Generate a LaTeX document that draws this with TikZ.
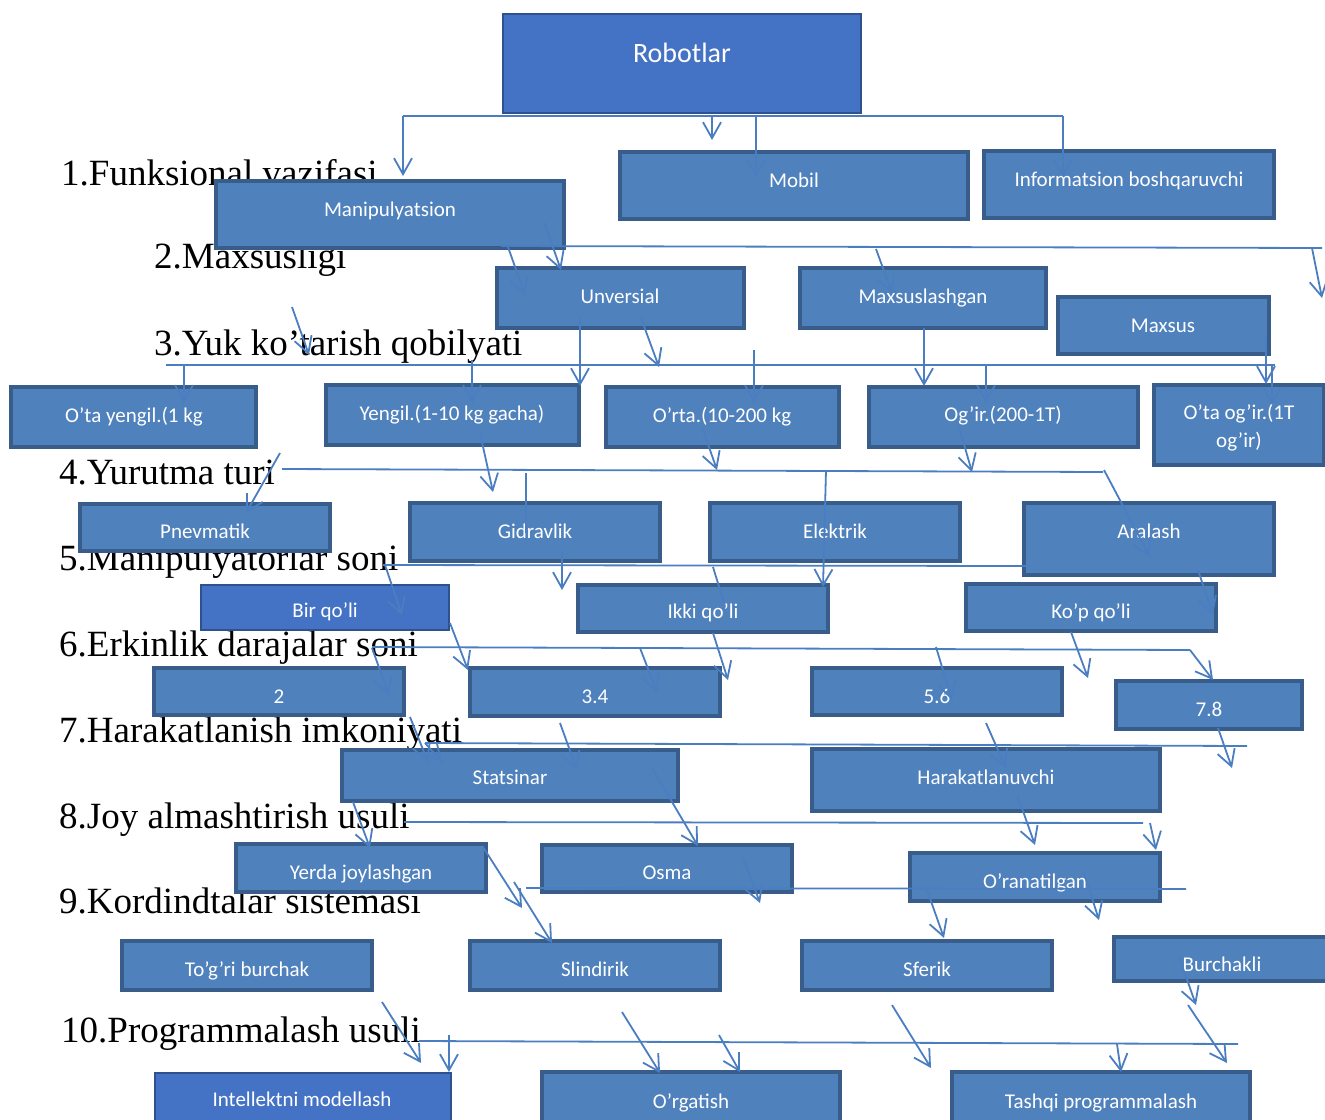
\documentclass[tikz,border=0pt]{standalone}
\usepackage{fontspec}
\setmainfont{Liberation Serif}
\newfontfamily\calibri{Carlito}
\usetikzlibrary{arrows.meta}
\definecolor{kfill}{HTML}{4F81BD}
\definecolor{kedge}{HTML}{385D8A}
\definecolor{kdark}{HTML}{4472C4}
\definecolor{kdarkedge}{HTML}{2F528F}
\definecolor{klinec}{HTML}{4A7EC0}
\tikzset{
	kbox/.style={fill=kfill, draw=kedge, line width=4pt},
	kboxdark/.style={fill=kdark, draw=kdarkedge, line width=2pt},
	ktext/.style={text=white, font=\calibri\fontsize{21}{28}\selectfont, anchor=base, inner sep=0pt},
	klabel/.style={font=\fontsize{37}{44}\selectfont, anchor=base west, inner sep=0pt},
	kline/.style={draw=klinec, line width=1.8pt},
	karrow/.style={kline, -{Straight Barb[length=16pt,width=18pt]}}
}
\begin{document}
\begin{tikzpicture}[x=1pt, y=-1pt]
			%%%%% START %%%%%
			\useasboundingbox (0,0) rectangle (1325,1119);
			\clip (0,0) rectangle (1325,1119);
			
			% left labels
			\node[klabel] (l1) at (61,185) {1.Funksional vazifasi};
			\node[klabel] (l2) at (154,268) {2.Maxsusligi};
			\node[klabel] (l3) at (154,355) {3.Yuk ko’tarish qobilyati};
			\node[klabel] (l4) at (59,484) {4.Yurutma turi};
			\node[klabel] (l5) at (59,570) {5.Manipulyatorlar soni};
			\node[klabel] (l6) at (59,656) {6.Erkinlik darajalar soni};
			\node[klabel] (l7) at (59,742) {7.Harakatlanish imkoniyati};
			\node[klabel] (l8) at (59,828) {8.Joy almashtirish usuli};
			\node[klabel] (l9) at (59,913) {9.Kordindtalar sistemasi};
			\node[klabel] (l10) at (61,1042) {10.Programmalash usuli};
			
			% top
			\draw[kboxdark] (503,14) rectangle (861,113);
			\node[ktext, font=\calibri\fontsize{28}{32}\selectfont] (robot) at (682,62) {Robotlar};
			
			% 1
			\draw[kbox] (620,152) rectangle (968,219);
			\node[ktext] (mobil) at (794,187) {Mobil};
			\draw[kbox] (984,151) rectangle (1274,218);
			\node[ktext] (info) at (1129,186) {Informatsion boshqaruvchi};
			\draw[kbox] (216,181) rectangle (564,248);
			\node[ktext] (manip) at (390,216) {Manipulyatsion};
			
			% 2
			\draw[kbox] (497,268) rectangle (744,328);
			\node[ktext] (unv) at (620,303) {Unversial};
			\draw[kbox] (800,268) rectangle (1046,328);
			\node[ktext] (maxl) at (923,303) {Maxsuslashgan};
			\draw[kbox] (1058,297) rectangle (1269,354);
			\node[ktext] (maxs) at (1163,332) {Maxsus};
			
			% 3
			\draw[kbox] (11,387) rectangle (256,447);
			\node[ktext] (yuk1) at (134,422) {O’ta yengil.(1 kg};
			\draw[kbox] (326,385) rectangle (579,445);
			\node[ktext] (yuk2) at (452,420) {Yengil.(1-10 kg gacha)};
			\draw[kbox] (606,387) rectangle (839,447);
			\node[ktext] (yuk3) at (722,422) {O’rta.(10-200 kg};
			\draw[kbox] (869,387) rectangle (1138,447);
			\node[ktext] (yuk4) at (1003,421) {Og’ir.(200-1T)};
			\draw[kbox] (1154,385) rectangle (1324,465);
			\node[ktext, anchor=center, align=center] (yuk5) at (1239,428) {O’ta og’ir.(1T\\og’ir)};
			
			% 4
			\draw[kbox] (80,504) rectangle (330,551);
			\node[ktext] (pnev) at (205,538) {Pnevmatik};
			\draw[kbox] (410,503) rectangle (660,561);
			\node[ktext] (gidr) at (535,538) {Gidravlik};
			\draw[kbox] (710,503) rectangle (960,561);
			\node[ktext] (elek) at (835,538) {Elektrik};
			\draw[kbox] (1024,503) rectangle (1274,575);
			\node[ktext] (aral) at (1149,538) {Aralash};
			
			% 5
			\draw[kboxdark] (201,585) rectangle (449,630);
			\node[ktext] (bir) at (325,617) {Bir qo’li};
			\draw[kbox] (578,585) rectangle (828,632);
			\node[ktext] (ikki) at (703,618) {Ikki qo’li};
			\draw[kbox] (966,584) rectangle (1216,631);
			\node[ktext] (kop) at (1091,618) {Ko’p qo’li};
			
			% 6
			\draw[kbox] (154,668) rectangle (404,715);
			\node[ktext] (erk1) at (279,703) {2};
			\draw[kbox] (470,668) rectangle (720,716);
			\node[ktext] (erk2) at (595,703) {3.4};
			\draw[kbox] (812,668) rectangle (1062,715);
			\node[ktext] (erk3) at (937,703) {5.6};
			\draw[kbox] (1116,681) rectangle (1302,729);
			\node[ktext] (erk4) at (1209,716) {7.8};
			
			% 7
			\draw[kbox] (342,750) rectangle (678,801);
			\node[ktext] (stat) at (510,784) {Statsinar};
			\draw[kbox] (812,749) rectangle (1160,811);
			\node[ktext] (hara) at (986,784) {Harakatlanuvchi};
			
			% 8
			\draw[kbox] (236,844) rectangle (486,892);
			\node[ktext] (yerda) at (361,879) {Yerda joylashgan};
			\draw[kbox] (542,845) rectangle (792,892);
			\node[ktext] (osma) at (667,879) {Osma};
			\draw[kbox] (910,853) rectangle (1160,901);
			\node[ktext] (orna) at (1035,888) {O’ranatilgan};
			
			% 9
			\draw[kbox] (122,941) rectangle (372,990);
			\node[ktext] (togri) at (247,976) {To’g’ri burchak};
			\draw[kbox] (470,941) rectangle (720,990);
			\node[ktext] (slin) at (595,976) {Slindirik};
			\draw[kbox] (802,941) rectangle (1052,990);
			\node[ktext] (sfer) at (927,976) {Sferik};
			\draw[kbox] (1114,937) rectangle (1330,981);
			\node[ktext] (burc) at (1222,971) {Burchakli};
			
			% 10
			\draw[kboxdark] (155,1073) rectangle (451,1130);
			\node[ktext] (intel) at (302,1106) {Intellektni modellash};
			\draw[kbox] (542,1072) rectangle (840,1130);
			\node[ktext] (orga) at (691,1108) {O’rgatish};
			\draw[kbox] (952,1072) rectangle (1250,1130);
			\node[ktext] (tash) at (1101,1108) {Tashqi programmalash};
			
			% lines, row 1
			\draw[kline] (403,116) -- (1063,116);
			\draw[karrow] (403,116) -- (403,176);
			\draw[karrow] (712,116) -- (712,140);
			\draw[karrow] (756,116) -- (756,177);
			\draw[karrow] (1063,116) -- (1063,177);
			
			% row 2
			\draw[kline] (501,246) -- (1322,248);
			\draw[karrow] (1312,248) -- (1322,298);
			\draw[karrow] (876,249) -- (892,293);
			\draw[karrow] (544,222) -- (561,270);
			\draw[karrow] (508,247) -- (525,295);
			
			% row 3
			\draw[kline] (166,365) -- (1275,365);
			\draw[karrow] (184,365) -- (184,403);
			\draw[karrow] (472,360) -- (472,403);
			\draw[karrow] (580,318) -- (580,386);
			\draw[karrow] (641,318) -- (659,367);
			\draw[karrow] (292,307) -- (309,355);
			\draw[karrow] (924,328) -- (924,386);
			\draw[karrow] (986,365) -- (986,403);
			\draw[karrow] (754,350) -- (754,403);
			\draw[karrow] (1266,337) -- (1266,384);
			\draw[karrow] (1272,365) -- (1272,405);
			
			% row 4
			\draw[kline] (282,469) -- (1103,472);
			\draw[karrow] (280,453) -- (246,513);
			\draw[karrow] (480,433) -- (493,492);
			\draw[kline] (526,473) -- (526,533);
			\draw[karrow] (702,427) -- (717,470);
			\draw[karrow] (959,427) -- (972,472);
			\draw[karrow] (826,470) -- (823,587);
			\draw[karrow] (1104,470) -- (1150,557);
			
			% row 5
			\draw[kline] (383,565) -- (1029,566);
			\draw[karrow] (385,565) -- (402,615);
			\draw[karrow] (562,552) -- (562,590);
			\draw[kline] (713,567) -- (724,603);
			\draw[karrow] (1198,570) -- (1213,615);
			\draw[karrow] (450,623) -- (468,670);
			
			% row 6
			\draw[kline] (372,647) -- (1190,650);
			\draw[karrow] (1190,650) -- (1213,680);
			\draw[karrow] (372,648) -- (389,695);
			\draw[karrow] (640,648) -- (657,692);
			\draw[karrow] (713,633) -- (728,680);
			\draw[karrow] (936,647) -- (952,700);
			\draw[karrow] (1071,632) -- (1088,678);
			
			% row 7
			\draw[kline] (425,743) -- (1247,746);
			\draw[karrow] (410,717) -- (428,762);
			\draw[karrow] (425,743) -- (442,762);
			\draw[karrow] (560,723) -- (577,770);
			\draw[karrow] (986,723) -- (1006,768);
			\draw[karrow] (1218,728) -- (1232,768);
			
			% row 8
			\draw[kline] (404,822) -- (1143,823);
			\draw[karrow] (353,802) -- (370,848);
			\draw[karrow] (652,768) -- (698,846);
			\draw[karrow] (1018,797) -- (1035,845);
			\draw[karrow] (1150,823) -- (1156,850);
			\draw[karrow] (483,847) -- (522,908);
			\draw[karrow] (514,882) -- (552,943);
			
			% row 9
			\draw[kline] (526,888) -- (1186,889);
			\draw[karrow] (743,857) -- (760,903);
			\draw[karrow] (927,890) -- (944,938);
			\draw[karrow] (1084,873) -- (1099,920);
			
			% row 10
			\draw[kline] (419,1041) -- (1238,1044);
			\draw[karrow] (382,1002) -- (421,1063);
			\draw[karrow] (449,1035) -- (449,1072);
			\draw[karrow] (622,1012) -- (660,1073);
			\draw[karrow] (719,1035) -- (740,1072);
			\draw[karrow] (892,1005) -- (931,1068);
			\draw[karrow] (1117,1044) -- (1121,1072);
			\draw[karrow] (1179,957) -- (1196,1005);
			\draw[karrow] (1188,1005) -- (1227,1063);
			
			%%%%% END %%%%%
\end{tikzpicture}
\end{document}
